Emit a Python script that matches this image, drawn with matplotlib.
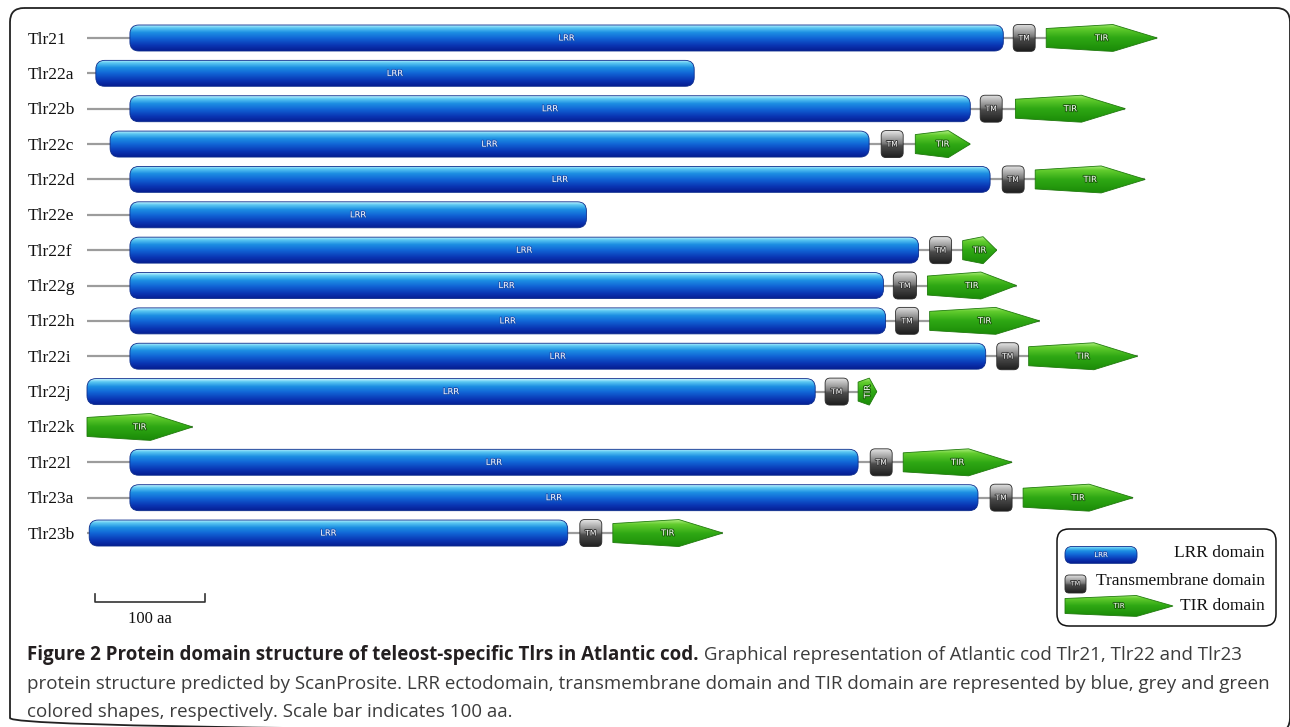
import numpy as np
import matplotlib.pyplot as plt
from matplotlib import transforms
from matplotlib.patches import FancyBboxPatch, Polygon
from matplotlib.colors import LinearSegmentedColormap
import matplotlib.patheffects as pe

# protein domain coordinates (aa), None = domain absent
names = ["Tlr21", "Tlr22a", "Tlr22b", "Tlr22c", "Tlr22d", "Tlr22e", "Tlr22f",
         "Tlr22g", "Tlr22h", "Tlr22i", "Tlr22j", "Tlr22k", "Tlr22l", "Tlr23a", "Tlr23b"]
lrr_start = [39, 8, 39, 21, 39, 39, 39, 39, 39, 39, 0, None, 39, 39, 2]
lrr_end = [833, 552, 803, 711, 821, 454, 756, 724, 726, 817, 662, None, 701, 810, 437]
tm_start = [842, None, 812, 722, 832, None, 766, 733, 735, 827, 671, None, 712, 821, 448]
tm_end = [862, None, 832, 742, 852, None, 786, 754, 756, 847, 692, None, 732, 841, 468]
tir_start = [872, None, 844, 753, 862, None, 796, 764, 766, 856, 701, 0, 742, 851, 478]
tir_end = [973, None, 944, 803, 962, None, 827, 845, 866, 955, 718, 96, 841, 951, 578]
scale_aa = 100

W, H = 1290, 727
PX_PER_AA = 1.1
X0_PX = 87
ROW0_PX = 38
ROW_PX = 35.36

lrr_cmap = LinearSegmentedColormap.from_list(
    "lrr", [(0, "#b8f0ff"), (0.1, "#5cc8f2"), (0.28, "#1d8fe3"), (0.5, "#1166d6"),
            (0.78, "#0a36b4"), (1.0, "#061e92")])
tm_cmap = LinearSegmentedColormap.from_list(
    "tm", [(0, "#e2e2e2"), (0.2, "#b4b4b4"), (0.45, "#7c7c7c"), (0.55, "#4c4c4c"),
           (1.0, "#1e1e1e")])
tir_cmap = LinearSegmentedColormap.from_list(
    "tir", [(0, "#a8ec78"), (0.15, "#62cc2e"), (0.5, "#2fa814"), (1.0, "#1b8c08")])

fig = plt.figure(figsize=(W / 100, H / 100), dpi=100)
ov = fig.add_axes([0, 0, 1, 1])
ov.set_xlim(0, W)
ov.set_ylim(H, 0)
ov.axis("off")
ax = fig.add_axes([0, 0, 1, 1])
ax.patch.set_alpha(0)
ax.axis("off")
ax.set_autoscale_on(False)
ov.set_autoscale_on(False)
ax.set_xlim(-X0_PX / PX_PER_AA, (W - X0_PX) / PX_PER_AA)
ax.set_ylim((H - ROW0_PX) / ROW_PX, -ROW0_PX / ROW_PX)


def gradient_fill(ax, patch, cmap, x0, x1, y_top, y_bot, z):
    grad = np.linspace(0, 1, 64).reshape(-1, 1)
    im = ax.imshow(grad, cmap=cmap, aspect="auto", origin="upper",
                   extent=(x0, x1, y_bot, y_top), zorder=z, interpolation="bilinear")
    im.set_clip_path(patch)


def draw_box(ax, x0, x1, yc, sx, sy, h_px, r_px, cmap, ec, label, fs, stroke):
    h = h_px / sy
    box = FancyBboxPatch((x0, yc - h / 2), x1 - x0, h,
                         boxstyle=f"round,pad=0,rounding_size={r_px / sx}",
                         mutation_aspect=sx / sy, fc="none", ec=ec, lw=0.6, zorder=4)
    ax.add_patch(box)
    gradient_fill(ax, box, cmap, x0, x1, yc - h / 2, yc + h / 2, 3)
    ax.text((x0 + x1) / 2, yc, label, color="white", fontsize=fs, ha="center",
            va="center", zorder=5, family="DejaVu Sans",
            path_effects=[pe.withStroke(linewidth=1.2, foreground=stroke)])


def draw_tir(ax, x0, x1, yc, sx, sy, half_l, half_s, shoulder=0.6, fs=6):
    xs = x0 + shoulder * (x1 - x0)
    verts = [(x0, yc - half_l / sy), (xs, yc - half_s / sy), (x1, yc),
             (xs, yc + half_s / sy), (x0, yc + half_l / sy)]
    poly = Polygon(verts, closed=True, fc="none", ec="#1f7a0c", lw=0.6, zorder=4)
    ax.add_patch(poly)
    gradient_fill(ax, poly, tir_cmap, x0, x1, yc - half_s / sy, yc + half_s / sy, 3)
    rot = 90 if (x1 - x0) * sx < 25 else 0
    ax.text((x0 + x1) / 2, yc, "TIR", color="white", fontsize=fs, ha="center",
            va="center", zorder=5, rotation=rot, family="DejaVu Sans",
            path_effects=[pe.withStroke(linewidth=1.4, foreground="#1b5e0a")])


# outer frame (right and bottom edges run off the canvas)
ov.add_patch(FancyBboxPatch((10, 8), 1280, 724, boxstyle="round,pad=0,rounding_size=14",
                            fc="none", ec="#222222", lw=1.3, zorder=0, clip_on=False))

sx, sy = PX_PER_AA, ROW_PX
name_tr = transforms.blended_transform_factory(ov.transData, ax.transData)
for i, name in enumerate(names):
    ends = [v for v in (lrr_end[i], tm_end[i], tir_end[i]) if v is not None]
    ax.plot([0, max(ends)], [i, i], color="#9c9c9c", lw=1.6, zorder=1,
            solid_capstyle="butt")
    if lrr_start[i] is not None:
        draw_box(ax, lrr_start[i], lrr_end[i], i, sx, sy, 26, 9, lrr_cmap,
                 "#0b2c8c", "LRR", 6, "#1a4fb0")
    if tm_start[i] is not None:
        draw_box(ax, tm_start[i], tm_end[i], i, sx, sy, 27, 5, tm_cmap,
                 "#2a2a2a", "TM", 5.5, "#333333")
    if tir_start[i] is not None:
        draw_tir(ax, tir_start[i], tir_end[i], i, sx, sy, 9.5, 13.5)
    ax.text(28, i + 5.5 / ROW_PX, name, transform=name_tr, fontsize=12.5,
            family="Liberation Serif", va="baseline", ha="left", color="#111111")

# scale bar
sb_y = (602 - ROW0_PX) / ROW_PX
tick = 8 / ROW_PX
sb_x0 = 7
ax.plot([sb_x0, sb_x0, sb_x0 + scale_aa, sb_x0 + scale_aa],
        [sb_y - tick, sb_y, sb_y, sb_y - tick], color="#333333", lw=1.2, zorder=2)
ax.text(sb_x0 + scale_aa / 2, (619 - ROW0_PX) / ROW_PX, f"{scale_aa} aa",
        fontsize=12, family="Liberation Serif", ha="center", va="center", color="#111111")

# legend
ov.add_patch(FancyBboxPatch((1057, 529), 219, 97, boxstyle="round,pad=0,rounding_size=12",
                            fc="white", ec="#111111", lw=1.1, zorder=2))
draw_box(ov, 1065, 1137, 555, 1, 1, 17, 7, lrr_cmap, "#0b2c8c", "LRR", 5, "#1a4fb0")
draw_box(ov, 1065, 1086, 584, 1, 1, 18, 4, tm_cmap, "#2a2a2a", "TM", 4.5, "#333333")
draw_tir(ov, 1065, 1173, 606, 1, 1, 7.5, 10.5, shoulder=0.66, fs=5)
for txt, y in [("LRR domain", 553), ("Transmembrane domain", 581), ("TIR domain", 606)]:
    ov.text(1265, y, txt, fontsize=12.5, family="Liberation Serif", ha="right",
            va="center", color="#111111", zorder=5)

# caption
cap_bold = "Figure 2 Protein domain structure of teleost-specific Tlrs in Atlantic cod."
cap_lines = [" Graphical representation of Atlantic cod Tlr21, Tlr22 and Tlr23",
             "protein structure predicted by ScanProsite. LRR ectodomain, transmembrane domain and TIR domain are represented by blue, grey and green",
             "colored shapes, respectively. Scale bar indicates 100 aa."]
renderer = fig.canvas.get_renderer()
probe = ov.text(27, 689, cap_lines[1], fontsize=12, family="Open Sans", color="#3c3c3c",
                va="baseline")
fs_cap = 12 * 1241 / probe.get_window_extent(renderer).width
probe.set_fontsize(fs_cap)
tb = ov.text(27, 660, cap_bold, fontsize=fs_cap, family="Open Sans", fontweight="bold",
             color="#231f20", va="baseline")
x_end = ov.transData.inverted().transform(tb.get_window_extent(renderer))[1, 0]
ov.text(x_end, 660, cap_lines[0], fontsize=fs_cap, family="Open Sans", color="#3c3c3c",
        va="baseline")
ov.text(27, 717, cap_lines[2], fontsize=fs_cap, family="Open Sans", color="#3c3c3c",
        va="baseline")

fig.savefig("out.png", dpi=100)
